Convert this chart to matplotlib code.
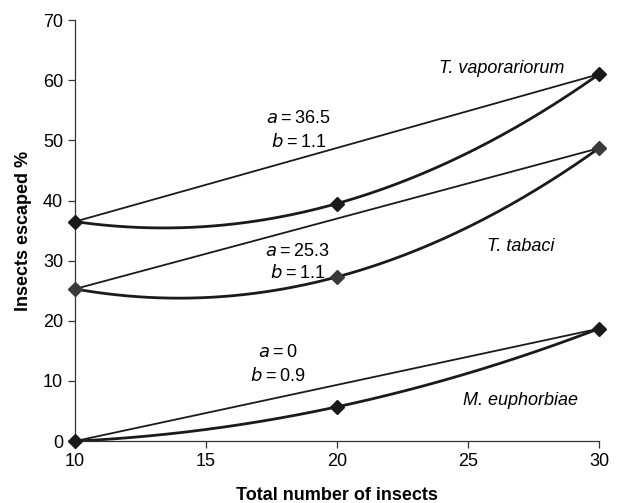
import numpy as np
import matplotlib
matplotlib.use("Agg")
import matplotlib.pyplot as plt

plt.rcParams['font.family'] = ['Liberation Sans', 'DejaVu Sans']

x = [10, 20, 30]
vaporariorum = [36.5, 39.5, 61.0]
tabaci = [25.3, 27.3, 48.7]
euphorbiae = [0.0, 5.7, 18.7]
species = ["T. vaporariorum", "T. tabaci", "M. euphorbiae"]
a_vals = ["36.5", "25.3", "0"]
b_vals = ["1.1", "1.1", "0.9"]

fig = plt.figure(figsize=(6.2, 5.03), dpi=100)
ax = fig.add_axes([0.121, 0.123, 0.845, 0.837])

series = [vaporariorum, tabaci, euphorbiae]
mcolors = ['#1a1a1a', '#3a3a3a', '#1a1a1a']
for ys, mc in zip(series, mcolors):
    coef = np.polyfit(x, ys, 2)
    xs = np.linspace(x[0], x[-1], 200)
    ax.plot(xs, np.polyval(coef, xs), color='#1a1a1a', lw=2.0, zorder=2)
    ax.plot([x[0], x[-1]], [ys[0], ys[-1]], color='#1a1a1a', lw=1.3, zorder=2)
    ax.plot(x, ys, linestyle='none', marker='D', ms=7, color=mc, zorder=3, clip_on=False)

fs = 13
ax.text(26.3, 61.9, species[0], style='italic', fontsize=fs, ha='center', va='center')
ax.text(27.0, 32.3, species[1], style='italic', fontsize=fs, ha='center', va='center')
ax.text(27.0, 6.8, species[2], style='italic', fontsize=fs, ha='center', va='center')

def ab(xc, ya, yb, av, bv):
    ax.text(xc, ya, r'$\mathit{a}$' + '\u2009=\u2009' + av, fontsize=fs, ha='center', va='center')
    ax.text(xc, yb, r'$\mathit{b}$' + '\u2009=\u2009' + bv, fontsize=fs, ha='center', va='center')

ab(18.55, 53.7, 49.8, a_vals[0], b_vals[0])
ab(18.5, 31.5, 28.0, a_vals[1], b_vals[1])
ab(17.75, 14.7, 10.8, a_vals[2], b_vals[2])

ax.set_xlim(10, 30)
ax.set_ylim(0, 70)
ax.set_xticks([10, 15, 20, 25, 30])
ax.set_yticks(range(0, 71, 10))
ax.spines['top'].set_visible(False)
ax.spines['right'].set_visible(False)
for s in ['left', 'bottom']:
    ax.spines[s].set_linewidth(0.9)
    ax.spines[s].set_color('#333333')
ax.tick_params(direction='out', length=5, width=0.9, labelsize=fs, color='#333333')
ax.set_xlabel('Total number of insects', fontsize=13, fontweight='bold', labelpad=12)
ax.set_ylabel('Insects escaped %', fontsize=13, fontweight='bold', labelpad=8)

fig.savefig('out.png', dpi=100)
